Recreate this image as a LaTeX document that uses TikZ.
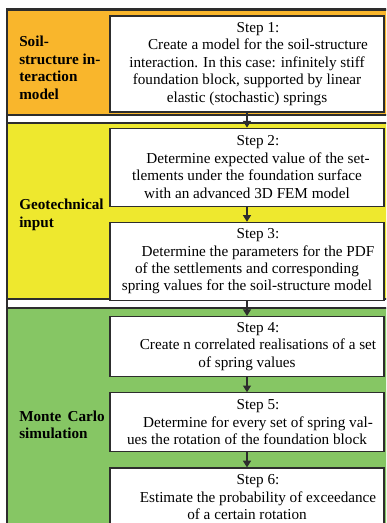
\documentclass[tikz,border=0pt]{standalone}
\usepackage{fontspec}
\setmainfont{Liberation Serif}
\usetikzlibrary{positioning,arrows.meta}
\definecolor{soilorange}{RGB}{249,182,44}
\definecolor{geoyellow}{RGB}{238,232,46}
\definecolor{mcgreen}{RGB}{134,198,100}
\definecolor{framegray}{RGB}{45,45,45}
\newcommand{\leadin}{\hspace*{16.5pt}}
\tikzset{
    flowchart/.style={
        x=0.75pt, y=-0.75pt,
        node distance=11.25pt,
        % Stile per i pannelli colorati
        panel/.style={draw=framegray, line width=1.1pt},
        % Stile per i passi (riquadri bianchi)
        stepbox/.style={draw=framegray, fill=white, line width=0.9pt,
                        align=center, minimum width=205.5pt, inner sep=2pt,
                        font=\fontsize{11.4}{13.1}\selectfont},
        % Stile per i titoli dei pannelli
        grouplabel/.style={anchor=west, align=left, inner sep=0pt,
                        font=\fontsize{11.4}{13.1}\selectfont\bfseries},
        flow/.style={draw=framegray, line width=0.9pt,
                     -{Triangle[length=5pt,width=6pt]}}
    }
}

\begin{document}
\begin{tikzpicture}[flowchart]
    \useasboundingbox (0,0) rectangle (386,523);
    \clip (0,0) rectangle (386,523);
    % cornice e pannelli
    \draw[panel, fill=white] (7,9) rectangle (400,540);
    \draw[panel, fill=soilorange] (7,10) rectangle (400,115);
    \draw[panel, fill=geoyellow] (7,123) rectangle (400,299);
    \draw[panel, fill=mcgreen] (7,308) rectangle (400,540);

    \node[grouplabel] (soil) at (19,68) {Soil-\\structure in-\\teraction\\model};
    \node[grouplabel] (geo) at (19,215) {Geotechnical\\input};
    \node[grouplabel] (mc) at (19,425) {Monte\hspace{0.15em} Carlo\\simulation};

    \node[stepbox, minimum height=72pt] (step1) at (247,64)
        {\leadin Step 1:\\
         \leadin Create a model for the soil-structure\\
         interaction. In this case: infinitely stiff\\
         foundation block, supported by linear\\
         elastic (stochastic) springs};
    \node[stepbox, minimum height=58.5pt, below=of step1] (step2)
        {\leadin Step 2:\\
         \leadin Determine expected value of the set-\\
         tlements under the foundation surface\\
         with an advanced 3D FEM model};
    \node[stepbox, minimum height=58.5pt, below=of step2] (step3)
        {\leadin Step 3:\\
         \leadin Determine the parameters for the PDF\\
         of the settlements and corresponding\\
         spring values for the soil-structure model};
    \node[stepbox, minimum height=45pt, below=of step3] (step4)
        {\leadin Step 4:\\
         \leadin Create n correlated realisations of a set\\
         of spring values};
    \node[stepbox, minimum height=44.25pt, below=of step4] (step5)
        {\leadin Step 5:\\
         \leadin Determine for every set of spring val-\\
         ues the rotation of the foundation block};
    \node[stepbox, minimum height=44.25pt, below=of step5] (step6)
        {\leadin Step 6:\\
         \leadin Estimate the probability of exceedance\\
         of a certain rotation};

    \foreach \a/\b in {step1/step2, step2/step3, step3/step4, step4/step5, step5/step6}
        \draw[flow] (\a) -- (\b);
\end{tikzpicture}
\end{document}
